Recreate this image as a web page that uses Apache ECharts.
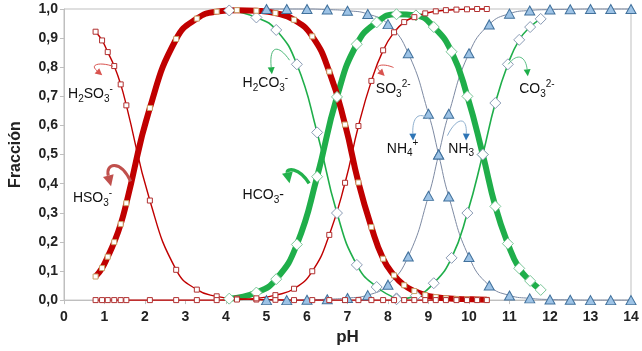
<!DOCTYPE html>
<html>
<head>
<meta charset="utf-8">
<script src="https://cdn.jsdelivr.net/npm/echarts/dist/echarts.min.js"></script>
<style>
  html, body { margin: 0; padding: 0; background: #fff; }
  #chart { width: 642px; height: 351px; }
</style>
</head>
<body>
<div id="chart"></div>
<script>
// datos (fracción de cada especie frente al pH)
var phSulf = [0.78, 0.94, 1.08, 1.24, 1.40, 1.54, 2.12, 2.77, 3.28, 3.77, 4.27, 4.75, 5.22, 5.68, 6.13, 6.55, 6.94, 7.27, 7.59, 7.88, 8.15, 8.40, 8.65, 8.92, 9.18, 9.43, 9.69, 9.95, 10.20, 10.44];
var h2so3 = [0.922, 0.892, 0.852, 0.804, 0.741, 0.669, 0.342, 0.104, 0.036, 0.013, 0.005, 0.002, 0.001, 0, 0, 0, 0, 0, 0, 0, 0, 0, 0, 0, 0, 0, 0, 0, 0, 0];
var hso3 = [0.081, 0.110, 0.149, 0.199, 0.261, 0.333, 0.660, 0.897, 0.967, 0.991, 0.996, 0.994, 0.986, 0.963, 0.906, 0.785, 0.603, 0.404, 0.251, 0.142, 0.085, 0.051, 0.031, 0.017, 0.010, 0.006, 0.004, 0.003, 0.002, 0.001];
var so3 = [0, 0, 0, 0, 0, 0, 0, 0, 0, 0, 0.002, 0.006, 0.017, 0.039, 0.099, 0.224, 0.403, 0.598, 0.753, 0.858, 0.920, 0.955, 0.972, 0.985, 0.992, 0.996, 0.998, 0.999, 1, 1];

var phCarb = [4.08, 4.75, 5.24, 5.75, 6.25, 6.74, 7.23, 7.72, 8.21, 8.69, 9.13, 9.57, 9.96, 10.34, 10.65, 10.96, 11.24, 11.51, 11.77];
var h2co3 = [0.995, 0.971, 0.928, 0.810, 0.576, 0.299, 0.121, 0.045, 0.006, null, null, null, null, null, null, null, null, null, null];
var hco3 = [0.005, 0.026, 0.072, 0.191, 0.424, 0.698, 0.879, 0.954, 0.982, 0.978, 0.938, 0.853, 0.700, 0.500, 0.322, 0.194, 0.109, 0.066, 0.035];
var co3 = [null, null, null, null, null, null, null, null, 0.003, 0.015, 0.058, 0.145, 0.299, 0.500, 0.677, 0.810, 0.894, 0.938, 0.966];

var phAmm = [5.0, 5.5, 6.0, 6.5, 7.0, 7.5, 8.0, 8.5, 9.0, 9.25, 9.5, 10.0, 10.5, 11.0, 11.5, 12.0, 12.5, 13.0, 13.5, 14.0];
var nh4 = [1.0, 1.0, 1.0, 0.998, 0.994, 0.983, 0.948, 0.848, 0.640, 0.500, 0.356, 0.148, 0.050, 0.016, 0.006, 0.002, 0.001, 0, 0, 0];
var nh3 = [0, 0, 0.001, 0.003, 0.007, 0.017, 0.053, 0.150, 0.358, 0.500, 0.640, 0.848, 0.947, 0.984, 0.995, 0.998, 0.999, 1, 1, 1];

var xTicks = [0, 1, 2, 3, 4, 5, 6, 7, 8, 9, 10, 11, 12, 13, 14];

function pares(xs, ys) {
  var out = [];
  for (var i = 0; i < xs.length; i++) {
    if (ys[i] != null) out.push([xs[i], ys[i]]);
  }
  return out;
}

var rojo = '#c00000';
var verde = '#1fae4a';
var gris = '#7d8aa3';

// una serie de línea suavizada
function linea(nombre, xs, ys, color, ancho, simbolo, tam, relleno, borde) {
  return {
    name: nombre,
    type: 'line',
    data: pares(xs, ys),
    smooth: 0.5,
    clip: false,
    symbol: simbolo,
    symbolSize: tam,
    showAllSymbol: true,
    lineStyle: { color: color, width: ancho },
    itemStyle: { color: relleno, borderColor: borde, borderWidth: 1 },
    emphasis: { disabled: true }
  };
}

var chart = echarts.init(document.getElementById('chart'));

var option = {
  animation: false,
  backgroundColor: '#fff',
  grid: { left: 53, right: 11, top: 9, bottom: 48, show: true, borderColor: '#bfbfbf', borderWidth: 1 },
  xAxis: {
    type: 'value', min: 0, max: 14, interval: 1,
    name: 'pH', nameLocation: 'middle', nameGap: 26,
    nameTextStyle: { fontSize: 17, fontWeight: 'bold', color: '#222', fontFamily: 'Arial' },
    axisLine: { lineStyle: { color: '#bfbfbf', width: 1 } },
    axisTick: { show: true, length: 4, lineStyle: { color: '#bfbfbf' } },
    axisLabel: { fontSize: 14, fontWeight: 'bold', color: '#222', fontFamily: 'Arial', margin: 10,
      formatter: function (v) { return xTicks.indexOf(v) >= 0 ? String(v) : ''; } },
    splitLine: { show: false }
  },
  yAxis: {
    type: 'value', min: 0, max: 1, interval: 0.1,
    name: 'Fracción', nameLocation: 'middle', nameGap: 40, nameRotate: 90,
    nameTextStyle: { fontSize: 16, fontWeight: 'bold', color: '#222', fontFamily: 'Arial' },
    axisLine: { show: true, lineStyle: { color: '#bfbfbf', width: 1 } },
    axisTick: { show: true, length: 4, lineStyle: { color: '#bfbfbf' } },
    axisLabel: { fontSize: 14, fontWeight: 'bold', color: '#222', fontFamily: 'Arial', margin: 6,
      formatter: function (v) { return v.toFixed(1).replace('.', ','); } },
    splitLine: { show: false }
  },
  series: [
    linea('NH4+', phAmm, nh4, gris, 1, 'triangle', [10, 9], '#9dc3e6', '#41719c'),
    linea('NH3', phAmm, nh3, gris, 1, 'triangle', [10, 9], '#9dc3e6', '#41719c'),
    linea('HCO3-', phCarb, hco3, verde, 6, 'diamond', 11, '#fff', '#7cc79a'),
    linea('H2CO3', phCarb, h2co3, verde, 1.6, 'diamond', 11, '#fff', '#8a9bb5'),
    linea('CO3 2-', phCarb, co3, verde, 1.6, 'diamond', 11, '#fff', '#8a9bb5'),
    linea('HSO3-', phSulf, hso3, rojo, 6, 'rect', 5, '#fff', '#c9a066'),
    linea('H2SO3', phSulf, h2so3, rojo, 1.4, 'rect', 5, '#fff', '#b03030'),
    linea('SO3 2-', phSulf, so3, rojo, 1.4, 'rect', 5, '#fff', '#b03030')
  ]
};
chart.setOption(option);

// etiquetas y flechas (posiciones en coordenadas pH / fracción)
var ricos = {
  n: { fontSize: 14, lineHeight: 20, fontFamily: 'Arial', color: '#111' },
  s: { fontSize: 10, lineHeight: 10, verticalAlign: 'bottom', fontFamily: 'Arial', color: '#111' },
  p: { fontSize: 10, lineHeight: 10, verticalAlign: 'top', fontFamily: 'Arial', color: '#111' }
};
var notas = [
  { t: '{n|H}{s|2}{n|SO}{s|3}{p|-}', at: [0.10, 0.708] },
  { t: '{n|HSO}{s|3}{p|-}', at: [0.22, 0.35] },
  { t: '{n|H}{s|2}{n|CO}{s|3}{p|-}', at: [4.41, 0.745] },
  { t: '{n|HCO}{s|3}{n|-}', at: [4.41, 0.36] },
  { t: '{n|SO}{s|3}{p|2-}', at: [7.70, 0.725] },
  { t: '{n|NH}{s|4}{p|+}', at: [7.97, 0.52] },
  { t: '{n|NH}{s|3}', at: [9.49, 0.52] },
  { t: '{n|CO}{s|3}{p|2-}', at: [11.24, 0.725] }
];
var flechas = [
  { p: [[1.21, 0.803], [0.944, 0.817], [0.605, 0.813], [0.944, 0.772]], c: '#d9534f', w: 1, h: 7, hc: '#d9534f' },
  { p: [[1.646, 0.408], [1.38, 0.486], [1.017, 0.469], [1.162, 0.391]], c: '#c0504d', w: 3, h: 11, hc: '#c0504d' },
  { p: [[5.569, 0.824], [5.303, 0.878], [5.06, 0.878], [5.133, 0.776]], c: '#4cb878', w: 1, h: 7, hc: '#1fae4a' },
  { p: [[6.053, 0.401], [5.787, 0.459], [5.496, 0.452], [5.569, 0.401]], c: '#22b14c', w: 3.5, h: 11, hc: '#22b14c' },
  { p: [[8.136, 0.799], [7.918, 0.813], [7.627, 0.810], [7.918, 0.770]], c: '#d9534f', w: 1, h: 7, hc: '#d9534f' },
  { p: [[9.007, 0.622], [8.765, 0.649], [8.596, 0.629], [8.620, 0.548]], c: '#8fb0cf', w: 1, h: 7, hc: '#2e75b6' },
  { p: [[9.467, 0.565], [9.661, 0.622], [9.952, 0.639], [9.927, 0.548]], c: '#8fb0cf', w: 1, h: 7, hc: '#2e75b6' },
  { p: [[10.969, 0.810], [11.211, 0.854], [11.404, 0.834], [11.453, 0.769]], c: '#5cbf85', w: 1, h: 7, hc: '#1fae4a' }
];

var graficos = [];
notas.forEach(function (n) {
  var q = chart.convertToPixel({ gridIndex: 0 }, n.at);
  graficos.push({
    type: 'text', x: q[0], y: q[1], z: 100,
    style: { text: n.t, rich: ricos, fill: '#111', align: 'left', verticalAlign: 'middle', textAlign: 'left', textVerticalAlign: 'middle' }
  });
});
flechas.forEach(function (f) {
  var q = f.p.map(function (d) { return chart.convertToPixel({ gridIndex: 0 }, d); });
  var dx = q[3][0] - q[2][0], dy = q[3][1] - q[2][1];
  var len = Math.sqrt(dx * dx + dy * dy) || 1;
  dx /= len; dy /= len;
  var bx = q[3][0] - dx * f.h, by = q[3][1] - dy * f.h;
  var ww = f.h * 0.5;
  graficos.push({
    type: 'bezierCurve', z: 100,
    shape: { x1: q[0][0], y1: q[0][1], cpx1: q[1][0], cpy1: q[1][1], cpx2: q[2][0], cpy2: q[2][1], x2: bx, y2: by },
    style: { stroke: f.c, lineWidth: f.w, fill: null }
  });
  graficos.push({
    type: 'polygon', z: 100,
    shape: { points: [[q[3][0], q[3][1]], [bx - dy * ww, by + dx * ww], [bx + dy * ww, by - dx * ww]] },
    style: { fill: f.hc }
  });
});
chart.setOption({ graphic: graficos });
</script>
</body>
</html>
